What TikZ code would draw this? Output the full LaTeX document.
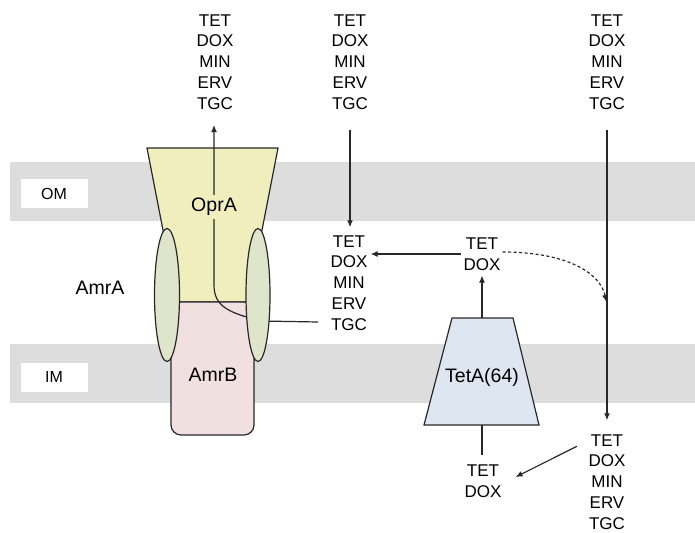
\documentclass[tikz,border=0pt]{standalone}
\usepackage{fontspec}
\setmainfont{Liberation Sans}
\usetikzlibrary{arrows.meta}
\definecolor{bandgray}{RGB}{221,221,221}
\definecolor{opracol}{RGB}{241,238,190}
\definecolor{amrbcol}{RGB}{241,224,224}
\definecolor{amracol}{RGB}{223,229,203}
\definecolor{tetacol}{RGB}{222,230,242}
\definecolor{edgecol}{RGB}{40,40,40}
\begin{document}
\begin{tikzpicture}[x=1pt,y=-1pt,
  band/.style={fill=bandgray,draw=none},
  memlbl/.style={fill=white,inner sep=0pt,minimum width=67pt,minimum height=29pt,font=\fontsize{16}{19}\selectfont},
  stack/.style={align=center,inner sep=0pt,font=\fontsize{17}{20.8}\selectfont},
  lbl/.style={inner sep=0pt,font=\fontsize{19.5}{23}\selectfont},
  prot/.style={draw=edgecol,line width=1.2pt},
  ln/.style={draw=edgecol,line width=1.2pt},
  arr/.style={ln,-{Latex[length=7pt,width=6pt]}}
]
\useasboundingbox (0,0) rectangle (695,532);
% membranes
\fill[band] (10,162) rectangle (695,221);
\fill[band] (10,344) rectangle (695,403);
\node[memlbl] (om) at (54,193.5) {OM};
\node[memlbl] (im) at (54,377) {IM};
% proteins
\draw[prot,fill=opracol] (147,148) -- (278,148) -- (248,302) -- (177,302) -- cycle;
\draw[prot,fill=amrbcol,rounded corners=10pt] (171,302) rectangle (254,435);
\draw[prot,fill=tetacol] (452,318) -- (513,318) -- (539,425) -- (424,425) -- cycle;
% text stacks
\node[stack] (tl) at (215,62) {TET\\DOX\\MIN\\ERV\\TGC};
\node[stack] (tm) at (350,62) {TET\\DOX\\MIN\\ERV\\TGC};
\node[stack] (tr) at (607,62) {TET\\DOX\\MIN\\ERV\\TGC};
\node[stack] (mm) at (349,283) {TET\\DOX\\MIN\\ERV\\TGC};
\node[stack] (bm) at (607,482) {TET\\DOX\\MIN\\ERV\\TGC};
\node[stack] (td) at (482,254) {TET\\DOX};
\node[stack] (bd) at (483,481) {TET\\DOX};
% AmrAB-OprA path
\coordinate (cin) at (318,322);
\coordinate (cup) at (214,125);
\draw[arr] (cin) -- (262,321) .. controls (228,313) and (214,306) .. (214,285) -- (cup);
\node[lbl,fill=opracol,inner sep=3pt] (opra) at (214,207) {OprA};
\node[lbl] (amrb) at (213,375) {AmrB};
\draw[prot,fill=amracol] (167,295) ellipse [x radius=12.5,y radius=66.5];
\draw[prot,fill=amracol] (258,295) ellipse [x radius=12,y radius=66.5];
\node[lbl] (amra) at (100,288) {AmrA};
\node[lbl] (teta) at (482,377) {TetA(64)};
% connectors
\coordinate (tetatop) at (482,318);
\coordinate (tetabot) at (482,425);
\draw[arr] ([yshift=-20pt]tm.south) -- ([yshift=8pt]tm.south |- mm.north);
\draw[arr] ([yshift=-20pt]tr.south) -- ([yshift=14pt]tr.south |- bm.north);
\draw[arr] ([xshift=-2pt]td.west) -- ([xshift=3pt]td.west -| mm.east);
\draw[arr] (tetatop) -- ([yshift=-5pt]td.south);
\draw[ln] (tetabot) -- ([yshift=-30pt]tetabot);
\draw[arr] ([shift={(-30pt,-12pt)}]bm.north) -- ([shift={(14pt,4pt)}]bd.east);
\draw[ln,dash pattern=on 3pt off 2.5pt,-{Latex[length=7pt,width=6pt]}] ([shift={(2pt,2pt)}]td.east) .. controls (565,252) and (600,272) .. (606.5,302);
\end{tikzpicture}
\end{document}
